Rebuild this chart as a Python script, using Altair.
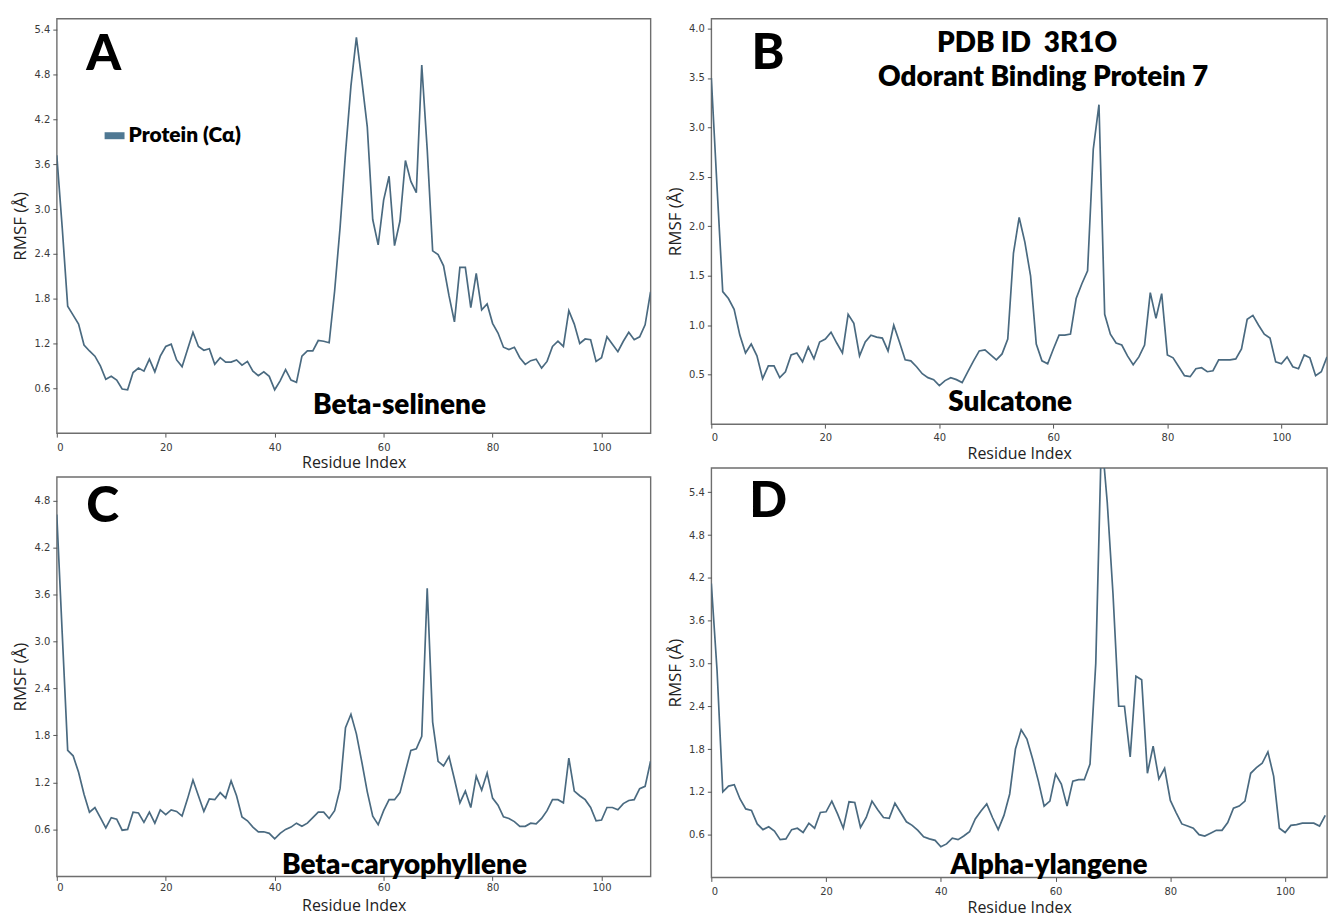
import altair as alt
import pandas as pd

# RMSF (Angstrom) per residue, Protein C-alpha, PDB 3R1O with four ligands
rmsf_beta_selinene = [
    3.72, 2.75, 1.70, 1.58, 1.46, 1.18, 1.10, 1.03, 0.90, 0.72,
    0.76, 0.71, 0.59, 0.58, 0.81, 0.87, 0.83, 0.99, 0.82, 1.03,
    1.16, 1.19, 0.98, 0.89, 1.12, 1.35, 1.16, 1.11, 1.13, 0.92,
    1.01, 0.95, 0.95, 0.98, 0.91, 0.96, 0.83, 0.77, 0.82, 0.76,
    0.58, 0.70, 0.85, 0.71, 0.68, 1.03, 1.10, 1.10, 1.24, 1.23,
    1.21, 1.90, 2.75, 3.75, 4.65, 5.30, 4.72, 4.10, 2.86, 2.52,
    3.12, 3.44, 2.51, 2.84, 3.65, 3.37, 3.22, 4.93, 3.80, 2.44,
    2.39, 2.24, 1.84, 1.49, 2.22, 2.22, 1.68, 2.14, 1.65, 1.73,
    1.47, 1.34, 1.15, 1.12, 1.15, 1.01, 0.92, 0.97, 0.99, 0.87,
    0.96, 1.16, 1.23, 1.16, 1.64, 1.46, 1.20, 1.26, 1.25, 0.96,
    1.01, 1.29, 1.19, 1.09, 1.23, 1.35, 1.25, 1.29, 1.45, 1.89,
]
rmsf_sulcatone = [
    3.50, 2.40, 1.34, 1.27, 1.16, 0.90, 0.72, 0.81, 0.69, 0.46,
    0.59, 0.59, 0.47, 0.53, 0.70, 0.72, 0.63, 0.78, 0.66, 0.83,
    0.86, 0.93, 0.82, 0.72, 1.11, 1.02, 0.69, 0.83, 0.90, 0.88,
    0.87, 0.74, 1.00, 0.83, 0.65, 0.64, 0.58, 0.51, 0.47, 0.45,
    0.39, 0.44, 0.47, 0.45, 0.42, 0.53, 0.64, 0.74, 0.75, 0.70,
    0.65, 0.71, 0.86, 1.73, 2.09, 1.84, 1.50, 0.81, 0.64, 0.61,
    0.76, 0.90, 0.90, 0.91, 1.27, 1.42, 1.55, 2.78, 3.23, 1.11,
    0.91, 0.82, 0.80, 0.69, 0.60, 0.68, 0.80, 1.33, 1.07, 1.32,
    0.70, 0.67, 0.58, 0.49, 0.48, 0.56, 0.57, 0.53, 0.54, 0.65,
    0.65, 0.65, 0.66, 0.76, 1.06, 1.10, 1.00, 0.91, 0.87, 0.63,
    0.61, 0.68, 0.58, 0.56, 0.70, 0.67, 0.49, 0.53, 0.68,
]
rmsf_beta_caryophyllene = [
    4.62, 3.10, 1.61, 1.54, 1.33, 1.05, 0.82, 0.88, 0.75, 0.62,
    0.75, 0.73, 0.59, 0.60, 0.82, 0.81, 0.69, 0.82, 0.68, 0.85,
    0.79, 0.85, 0.83, 0.77, 0.99, 1.23, 1.03, 0.83, 0.99, 0.98,
    1.07, 1.00, 1.22, 1.03, 0.76, 0.71, 0.63, 0.57, 0.57, 0.55,
    0.48, 0.55, 0.60, 0.63, 0.68, 0.64, 0.68, 0.75, 0.82, 0.82,
    0.74, 0.84, 1.12, 1.90, 2.07, 1.82, 1.46, 1.08, 0.77, 0.66,
    0.84, 0.98, 0.98, 1.07, 1.34, 1.61, 1.63, 1.79, 3.68, 1.97,
    1.47, 1.41, 1.53, 1.24, 0.94, 1.09, 0.88, 1.28, 1.10, 1.32,
    1.00, 0.91, 0.76, 0.74, 0.70, 0.64, 0.64, 0.68, 0.67, 0.74,
    0.84, 0.98, 0.98, 0.94, 1.51, 1.09, 1.03, 0.98, 0.88, 0.71,
    0.72, 0.88, 0.88, 0.85, 0.93, 0.97, 0.98, 1.12, 1.15, 1.47,
]
rmsf_alpha_ylangene = [
    4.12, 2.90, 1.20, 1.28, 1.30, 1.10, 0.96, 0.94, 0.75, 0.67,
    0.71, 0.65, 0.53, 0.54, 0.67, 0.69, 0.63, 0.76, 0.69, 0.91,
    0.92, 1.07, 0.89, 0.69, 1.06, 1.05, 0.70, 0.84, 1.07, 0.95,
    0.84, 0.83, 1.04, 0.91, 0.78, 0.73, 0.66, 0.57, 0.54, 0.52,
    0.43, 0.47, 0.55, 0.53, 0.58, 0.64, 0.82, 0.93, 1.03, 0.84,
    0.67, 0.87, 1.17, 1.80, 2.07, 1.94, 1.66, 1.35, 1.00, 1.07,
    1.45, 1.31, 1.00, 1.35, 1.37, 1.37, 1.59, 3.00, 6.20, 5.26,
    3.98, 2.40, 2.40, 1.69, 2.82, 2.77, 1.46, 1.84, 1.38, 1.53,
    1.08, 0.91, 0.75, 0.72, 0.69, 0.60, 0.58, 0.62, 0.66, 0.66,
    0.77, 0.97, 1.00, 1.07, 1.46, 1.54, 1.60, 1.76, 1.42, 0.69,
    0.63, 0.73, 0.74, 0.76, 0.76, 0.76, 0.72, 0.87,
]

x_ticks = [0, 20, 40, 60, 80, 100]
y_ticks_a = [0.6, 1.2, 1.8, 2.4, 3.0, 3.6, 4.2, 4.8, 5.4]
y_ticks_b = [0.5, 1.0, 1.5, 2.0, 2.5, 3.0, 3.5, 4.0]
y_ticks_c = [0.6, 1.2, 1.8, 2.4, 3.0, 3.6, 4.2, 4.8]
y_ticks_d = [0.6, 1.2, 1.8, 2.4, 3.0, 3.6, 4.2, 4.8, 5.4]

LINE = "#4a6a80"
SWATCH = "#4f7893"
BOLD_FONT = "Lato"


def label(text, x, y, size, weight=800, align="center"):
    return alt.Chart(pd.DataFrame({"t": [text]})).mark_text(
        font=BOLD_FONT, fontSize=size, fontWeight=weight, align=align,
        baseline="alphabetic", color="#000000",
    ).encode(text="t:N", x=alt.value(x), y=alt.value(y))


def panel(values, width, height, xmax, ymax, yticks, texts, lab_pad, ttl_pad):
    df = pd.DataFrame({"residue": list(range(len(values))), "rmsf": values})
    line = alt.Chart(df).mark_line(color=LINE, strokeWidth=1.7, clip=True).encode(
        x=alt.X("residue:Q", scale=alt.Scale(domain=[0, xmax], nice=False, zero=False),
                axis=alt.Axis(values=x_ticks, title="Residue Index", labelPadding=lab_pad,
                              titlePadding=ttl_pad)),
        y=alt.Y("rmsf:Q", scale=alt.Scale(domain=[0, ymax], nice=False),
                axis=alt.Axis(values=yticks, format=".1f", title="RMSF (Å)")),
    )
    return alt.layer(line, *texts).properties(width=width, height=height)


# legend swatch for panel A
swatch = alt.Chart(pd.DataFrame({"k": ["Protein (Cα)"]})).mark_rect(color=SWATCH).encode(
    x=alt.value(48), x2=alt.value(68), y=alt.value(114), y2=alt.value(121)
)

pa = panel(rmsf_beta_selinene, 596, 416, 109, 5.55, y_ticks_a, [
    label("A", 47, 52, 50, 900),
    swatch,
    label("Protein (Cα)", 72, 124, 21, 800, "left"),
    label("Beta-selinene", 344, 397, 28, 800),
], 5, 3)

pb = panel(rmsf_sulcatone, 618, 407, 108, 4.1, y_ticks_b, [
    label("B", 57, 51, 50, 900),
    label("PDB ID\u00a0\u00a03R1O", 317, 33, 28, 800),
    label("Odorant Binding Protein 7", 333, 68, 28, 800),
    label("Sulcatone", 300, 394, 28, 800),
], 4, 3)

pc = panel(rmsf_beta_caryophyllene, 596, 401, 109, 5.1, y_ticks_c, [
    label("C", 46, 45, 50, 900),
    label("Beta-caryophyllene", 349, 399, 28, 800),
], 2, 5)

pd_ = panel(rmsf_alpha_ylangene, 618, 411, 107.3, 5.74, y_ticks_d, [
    label("D", 57, 49, 50, 900),
    label("Alpha-ylangene", 339, 408, 28, 800),
], 5, 3)

chart = alt.hconcat(
    alt.vconcat(pa, pc, spacing=4),
    alt.vconcat(pb, pd_, spacing=5),
    spacing=14,
).properties(
    padding={"left": 11, "top": 16, "right": 0, "bottom": 0},
    background="#ffffff",
).configure_view(
    stroke="#6e6e6e", strokeWidth=1.4
).configure_axis(
    domain=False, grid=False,
    tickColor="#555555", tickSize=4, tickWidth=1,
    labelFont="DejaVu Sans", labelFontSize=10, labelColor="#3a3a3a",
    titleFont="Open Sans", titleFontSize=16, titleFontWeight="normal", titleColor="#222222",
).configure_axisY(
    titleFontSize=17, labelPadding=3, titlePadding=4,
)

chart.save("out.html", embed_options={"renderer": "svg", "actions": False})
